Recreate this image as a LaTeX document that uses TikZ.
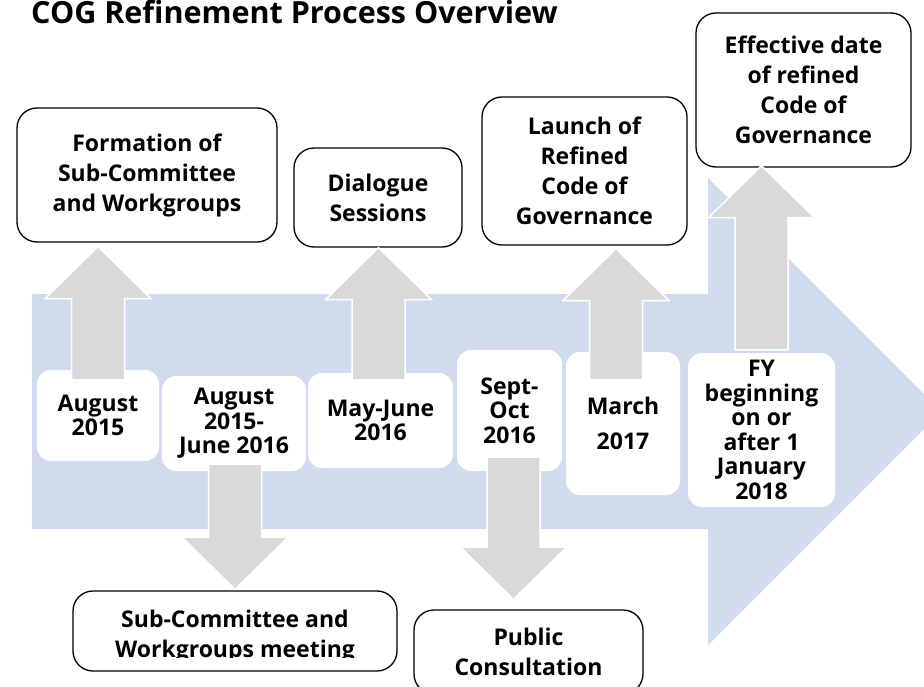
\documentclass[tikz,border=0pt]{standalone}
\usepackage{fontspec}
\setmainfont{Open Sans}
\usepackage{tikz}
\usetikzlibrary{calc}
\definecolor{band}{HTML}{D0DCEE}
\definecolor{stem}{HTML}{D9D9D9}
\tikzset{
  event/.style={draw=black, line width=1.3pt, fill=white, rounded corners=20pt, align=center, inner sep=0pt, font=\bfseries\fontsize{23}{30}\selectfont},
  date/.style={fill=white, rounded corners=14pt, align=center, inner sep=0pt, font=\bfseries\fontsize{23}{24.5}\selectfont},
  block/.style={fill=stem, draw=white, line width=1.5pt, line join=miter},
  heading/.style={anchor=base west, inner sep=0pt, font=\bfseries\fontsize{30.5}{34}\selectfont},
}

\begin{document}
\begin{tikzpicture}[x=1pt, y=-1pt]
  \useasboundingbox (0,0) rectangle (924,687);
  \clip (0,0) rectangle (924,687);

  % timeline band
  \fill[band] (32,294) -- (708,294) -- (708,178) -- (941.5,411.5) -- (708,645) -- (708,529) -- (32,529) -- cycle;

  \node[heading] (title) at (31,23.5) {COG Refinement Process Overview};

  % dates on the band
  \node[date, minimum width=122pt, minimum height=91pt] (d1) at (98,415.5) {August\\2015};
  \node[date, minimum width=144pt, minimum height=95pt] (d2) at (234,423.5) {August\\2015-\\June 2016};
  \node[date, minimum width=145pt, minimum height=95pt] (d3) at (380.5,420.5) {May-June\\2016};
  \node[date, minimum width=105pt, minimum height=121pt] (d4) at (509.5,410.5) {Sept-\\Oct\\2016};
  \node[date, minimum width=114pt, minimum height=143pt] (d5) at (623,423.5) {March\\[10pt]2017};
  \node[date, minimum width=147pt, minimum height=154pt] (d6) at (761.5,430) {FY\\beginning\\on or\\after 1\\January\\2018};

  % events
  \node[event, minimum width=260pt, minimum height=134pt] (fA) at (147,175) {Formation of\\Sub-Committee\\and Workgroups};
  \node[event, minimum width=168pt, minimum height=99pt] (fB) at (378,197.5) {Dialogue\\Sessions};
  \node[event, minimum width=205pt, minimum height=148pt] (fC) at (584.5,171) {Launch of\\Refined\\Code of\\Governance};
  \node[event, minimum width=215pt, minimum height=154pt] (fD) at (803.5,90) {Effective date\\of refined\\Code of\\Governance};
  \node[event, minimum width=324pt, minimum height=80pt] (fE) at (235,631) {};
  \node[event, minimum width=229pt, minimum height=84pt] (fF) at (528.5,652) {Public\\Consultation};
  \begin{scope}
    \clip (fE.north west) rectangle ($(fE.east)+(0,26)$);
    \node[event, draw=none, fill=none, rounded corners=0pt, anchor=north] (tE) at ($(fE.north)+(0,19)$) {Sub-Committee and\\Workgroups meeting};
  \end{scope}

  % block arrows from date to event
  \coordinate (s1) at ($(d1.north)+(0,10)$);
  \coordinate (e1) at ($(d1.north |- fA.south)+(0,4)$);
  \coordinate (s2) at ($(d3.north)+(-2,7)$);
  \coordinate (e2) at (s2 |- fB.south);
  \coordinate (s3) at ($(d5.north)+(-7,28)$);
  \coordinate (e3) at ($(s3 |- fC.south)+(0,3)$);
  \coordinate (s4) at ($(d6.north)+(0,-3)$);
  \coordinate (e4) at ($(d6.north |- fD.south)+(0,-2)$);
  \coordinate (s5) at ($(d2.south)+(1,-7)$);
  \coordinate (e5) at ($(s5 |- fE.north)+(0,-1)$);
  \coordinate (s6) at ($(d4.south)+(4,-14)$);
  \coordinate (e6) at ($(s6 |- fF.north)+(0,-10)$);
  \foreach \s/\e in {s1/e1, s2/e2, s3/e3, s4/e4, s5/e5, s6/e6}{
    \coordinate (hb) at ($(\e)!52pt!(\s)$);
    \draw[block] ($(\s)!26.5pt!90:(\e)$) -- ($(hb)!26.5pt!90:(\e)$) -- ($(hb)!53pt!90:(\e)$) -- (\e)
      -- ($(hb)!53pt!-90:(\e)$) -- ($(hb)!26.5pt!-90:(\e)$) -- ($(\s)!26.5pt!-90:(\e)$) -- cycle;
  }
\end{tikzpicture}
\end{document}
